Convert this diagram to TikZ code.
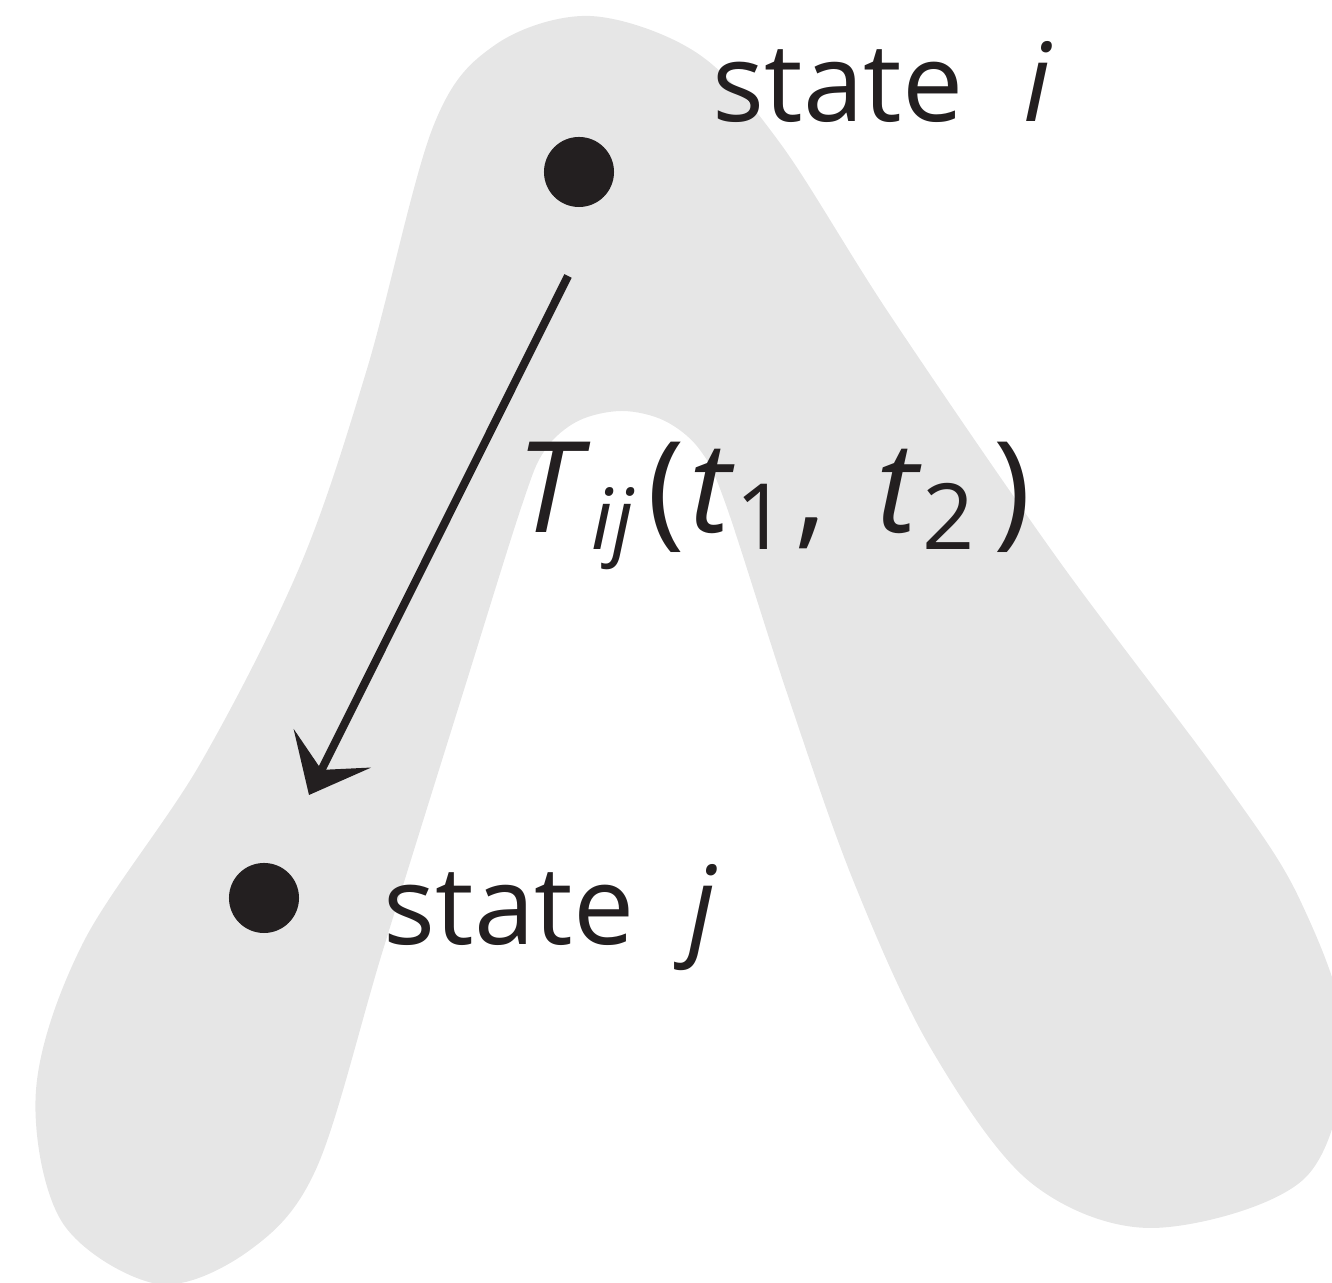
\documentclass[tikz,border=0pt]{standalone}
\usepackage{fontspec}
\setmainfont{Open Sans}
\usetikzlibrary{arrows.meta, positioning}
\definecolor{blobgray}{RGB}{230,230,230}
\definecolor{ink}{RGB}{35,31,32}
\newcommand{\lowsub}[2][26]{\raisebox{-0.17cm}{\fontsize{#1}{#1}\selectfont #2}}

\begin{document}
\begin{tikzpicture}[
  x=0.01cm, y=-0.01cm,
  dot/.style={circle, fill=ink, inner sep=0pt, minimum size=7mm},
  lbl/.style={anchor=base west, inner sep=0pt, text=ink, font=\fontsize{31}{36}\selectfont},
  arr/.style={-{Stealth[length=5.2mm, width=8.6mm, inset=2.4mm]}, line width=2.3pt, draw=ink}
]
  \useasboundingbox (0,0) rectangle (1332,1283);
  \clip (0,0) rectangle (1332,1283);
  % grey lambda-shaped region
  \fill[blobgray] plot[smooth cycle, tension=0.55] coordinates {
    (158,1284) (62,1222) (36,1090) (83,943) (200,764) (300,566)
    (367,369) (433,127) (495,45) (590,16) (697,53) (780,143)
    (890,315) (1057,558) (1223,780) (1300,900) (1345,1040) (1305,1178)
    (1153,1228) (1030,1182) (930,1047) (853,880) (787,693) (726,505)
    (700,450) (665,421) (622,411) (578,421) (545,450) (522,505)
    (463,693) (383,950) (317,1167) (250,1250)};

  \node[dot] (si) at (579,172) {};
  \node[dot] (sj) at (264,898) {};
  \node[lbl] (labi) at (712,122) {state\hspace{0.55em}\textit{i}};
  \node[lbl] (labj) at (383,945) {state\hspace{0.5em}\textit{j}};
  \node[lbl, font=\fontsize{36}{42}\selectfont] (trans) at (516,533)
    {\textit{T}\lowsub[24]{\textit{ij}}\hspace{0.1em}(\hspace{0.04em}\textit{t}\lowsub{1}\hspace{0.06em},\hspace{0.4em}\textit{t}\lowsub{2}\hspace{0.15em})};

  \coordinate (from) at (568,276);
  \coordinate (to) at (309,795);
  \draw[arr] (from) -- (to);
\end{tikzpicture}
\end{document}
